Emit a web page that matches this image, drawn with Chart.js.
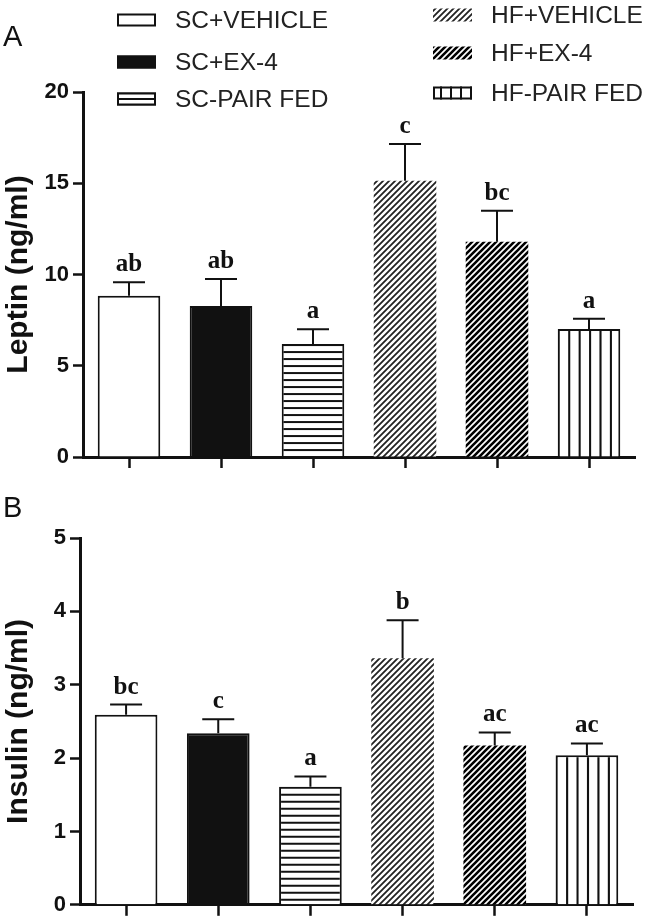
<!DOCTYPE html>
<html><head><meta charset="utf-8">
<script src="https://cdn.jsdelivr.net/npm/chart.js@4.4.1/dist/chart.umd.min.js"></script>
<style>
html,body{margin:0;padding:0;background:#fff;width:656px;height:922px;overflow:hidden}
#ca{position:absolute;left:0;top:0}
#cb{position:absolute;left:0;top:480px}
</style></head><body>
<canvas id="ca" width="656" height="480"></canvas>
<canvas id="cb" width="656" height="442"></canvas>
<script>
const categories = ['SC+VEHICLE','SC+EX-4','SC-PAIR FED','HF+VEHICLE','HF+EX-4','HF-PAIR FED'];
const leptinMean = [8.84, 8.27, 6.19, 15.14, 11.80, 7.01];
const leptinSem  = [0.73, 1.48, 0.81, 2.01, 1.70, 0.57];
const leptinLetters = ['ab','ab','a','c','bc','a'];
const insulinMean = [2.59, 2.34, 1.61, 3.36, 2.17, 2.04];
const insulinSem  = [0.14, 0.19, 0.14, 0.52, 0.18, 0.16];
const insulinLetters = ['bc','c','a','b','ac','ac'];
const leptinTicks = [0, 5, 10, 15, 20];
const insulinTicks = [0, 1, 2, 3, 4, 5];

function tile(w,h,draw){const c=document.createElement('canvas');c.width=w;c.height=h;const g=c.getContext('2d');g.fillStyle='#fff';g.fillRect(0,0,w,h);draw(g,w,h);return c;}
function diagTile(P,lw,color){return tile(P,P,(g)=>{g.strokeStyle=color;g.lineWidth=lw;g.beginPath();
  g.moveTo(-2,P+2);g.lineTo(P+2,-2);g.moveTo(-2,2);g.lineTo(2,-2);g.moveTo(P-2,P+2);g.lineTo(P+2,P-2);g.stroke();});}
function hTile(){return tile(4,7,(g)=>{g.fillStyle='#111';g.fillRect(0,0,4,2);});}
function vTile(){return tile(10,4,(g)=>{g.fillStyle='#111';g.fillRect(0,0,2,4);});}
function makeFills(ctx){
  return ['#ffffff','#111111',ctx.createPattern(hTile(),'repeat'),ctx.createPattern(diagTile(6,1.8,'#222'),'repeat'),
          ctx.createPattern(diagTile(6,2.6,'#000'),'repeat'),ctx.createPattern(vTile(),'repeat')];
}
const borderW = [2,2,2,0,0,2];

const errPlugin = {
  id:'errbars',
  beforeDatasetsDraw(chart){
    const meta = chart.getDatasetMeta(0);
    const ds = chart.data.datasets[0];
    const b6 = meta.data[5];
    const L = b6.x - b6.width/2;
    ds.backgroundColor[5].setTransform(new DOMMatrix().translate(L,0).scale(b6.width/60,1));
    const b3 = meta.data[2];
    ds.backgroundColor[2].setTransform(new DOMMatrix().translate(0,b3.y));
  },
  afterDatasetsDraw(chart, args, opts){
    const ctx = chart.ctx, y = chart.scales.y;
    const meta = chart.getDatasetMeta(0);
    const ds = chart.data.datasets[0];
    meta.data.forEach((bar,i)=>{
      const top = y.getPixelForValue(ds.data[i] + opts.sem[i]);
      ctx.save();
      ctx.strokeStyle='#111'; ctx.lineWidth=2;
      ctx.beginPath(); ctx.moveTo(bar.x, bar.y); ctx.lineTo(bar.x, top);
      ctx.moveTo(bar.x-16, top); ctx.lineTo(bar.x+16, top); ctx.stroke();
      ctx.fillStyle='#111'; ctx.font='bold 25px "Liberation Serif", "Times New Roman", serif';
      ctx.textAlign='center'; ctx.textBaseline='alphabetic';
      ctx.fillText(opts.letters[i], bar.x, top-11);
      ctx.restore();
    });
    ctx.save(); ctx.fillStyle='#111'; ctx.font='29px "Liberation Sans", Arial, sans-serif';
    ctx.textAlign='left'; ctx.fillText(opts.panel, opts.panelX, opts.panelY); ctx.restore();
  }
};

const legendPlugin = {
  id:'pairLegend',
  afterDraw(chart, args, opts){
    if(!opts.show) return;
    const ctx = chart.ctx;
    const fills = makeFills(ctx);
    const items = [
      {i:0,x:117,y:20},{i:1,x:117,y:62},{i:2,x:117,y:99},
      {i:3,x:433,y:15},{i:4,x:433,y:53},{i:5,x:433,y:93}
    ];
    items.forEach(it=>{
      const w=39,h=13,x=it.x,yy=it.y-h/2;
      ctx.save();
      ctx.fillStyle=fills[it.i]; ctx.fillRect(x,yy,w,h);
      if(borderW[it.i]>0){ctx.strokeStyle='#111';ctx.lineWidth=2;ctx.strokeRect(x+1,yy+1,w-2,h-2);}
      ctx.fillStyle='#222'; ctx.font='24.5px "Liberation Sans", Arial, sans-serif';
      ctx.textBaseline='middle'; ctx.textAlign='left';
      ctx.fillText(categories[it.i], x+58, it.y+1);
      ctx.restore();
    });
  }
};

function build(id, means, sem, letters, ticks, title, pad, yWidth, xHeight, panel, panelY, showLegend){
  const cv = document.getElementById(id);
  const ctx = cv.getContext('2d');
  const fills = makeFills(ctx);
  const tickSet = ticks;
  return new Chart(ctx, {
    type:'bar',
    data:{labels:categories, datasets:[{data:means, backgroundColor:fills, borderColor:'#111', borderWidth:borderW,
      borderSkipped:'start', barPercentage:0.68, categoryPercentage:1.0}]},
    options:{
      responsive:false, animation:false, devicePixelRatio:1,
      layout:{padding:pad},
      plugins:{legend:{display:false}, tooltip:{enabled:false},
        errbars:{sem:sem, letters:letters, panel:panel, panelX:3, panelY:panelY},
        pairLegend:{show:showLegend}},
      scales:{
        x:{offset:true, z:1,
          grid:{display:true, offset:false, drawOnChartArea:false, drawTicks:true, tickLength:11, tickWidth:2.5, tickColor:'#111'},
          border:{display:true, width:3, color:'#111'},
          ticks:{display:false},
          afterFit:(s)=>{s.height=xHeight;}},
        y:{min:tickSet[0], max:tickSet[tickSet.length-1], z:1,
          afterBuildTicks:(s)=>{s.ticks = tickSet.map(v=>({value:v}));},
          grid:{display:true, drawOnChartArea:false, drawTicks:true, tickLength:10, tickWidth:2.5, tickColor:'#111'},
          border:{display:true, width:3, color:'#111'},
          ticks:{color:'#111', padding:4, font:{family:'"Liberation Sans", Arial, sans-serif', size:22, weight:'bold'}},
          title:{display:true, text:title, color:'#111', padding:{top:1,bottom:0},
            font:{family:'"Liberation Sans", Arial, sans-serif', size:30, weight:'bold'}},
          afterFit:(s)=>{s.width=yWidth;}}
      }
    },
    plugins:[errPlugin, legendPlugin]
  });
}

build('ca', leptinMean, leptinSem, leptinLetters, leptinTicks, 'Leptin (ng/ml)',
      {left:0,right:21,top:92,bottom:8}, 83, 15, 'A', 46, true);
build('cb', insulinMean, insulinSem, insulinLetters, insulinTicks, 'Insulin (ng/ml)',
      {left:0,right:23,top:58,bottom:4}, 80, 12, 'B', 37, false);
</script>
</body></html>
